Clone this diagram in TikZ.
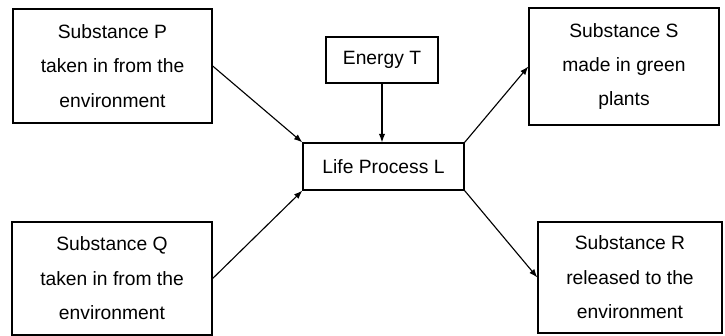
\documentclass[tikz,border=0pt]{standalone}
\usepackage{fontspec}
\setmainfont{Liberation Sans}
\usepackage{tikz}
\usetikzlibrary{arrows.meta}

\begin{document}
\begin{tikzpicture}[x=0.025cm, y=0.025cm, line width=0.9pt,
    box/.style={draw=black, align=center, inner sep=2pt,
      font=\fontsize{13.7}{24.5}\selectfont},
    flow/.style={-{Latex[length=6pt, width=4.5pt]}, line width=0.8pt}]
    % fix the page size
    \useasboundingbox (0, 0) rectangle (725, 336);

    % draw the substance boxes
    \node[box, minimum width=4.975cm, minimum height=2.85cm] (subP) at (112.5, 270)
      {Substance P\\taken in from the\\environment};
    \node[box, minimum width=5cm, minimum height=2.825cm] (subQ) at (112, 57.5)
      {Substance Q\\taken in from the\\environment};
    \node[box, minimum width=4.75cm, minimum height=2.925cm] (subS) at (624, 269.5)
      {Substance S\\made in green\\plants};
    \node[box, minimum width=4.6cm, minimum height=2.775cm] (subR) at (630, 58.5)
      {Substance R\\released to the\\environment};

    % draw energy and process boxes
    \node[box, minimum width=2.8cm, minimum height=1.15cm] (energyT) at (382, 276) {Energy T};
    \node[box, minimum width=4.025cm, minimum height=1.175cm] (lifeL) at (383.5, 169.5) {Life Process L};

    % draw arrows
    \draw[flow] (subP.east) -- (lifeL.north west);
    \draw[flow] (subQ.east) -- (lifeL.south west);
    \draw[flow] (energyT.south) -- (energyT.south |- lifeL.north);
    \draw[flow] (lifeL.north east) -- (subS.west);
    \draw[flow] (lifeL.south east) -- (subR.west);

\end{tikzpicture}
\end{document}
